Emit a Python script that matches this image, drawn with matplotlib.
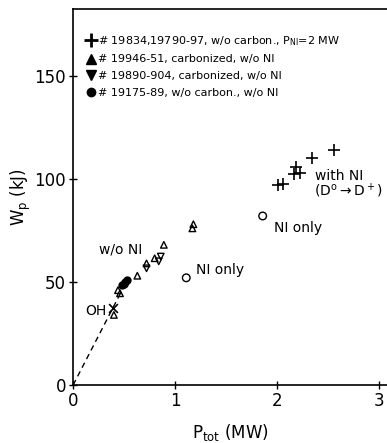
#!/usr/bin/env python3
"""Stored energy W_p vs total heating power P_tot, with / without neon."""

import matplotlib
matplotlib.use('Agg')
import matplotlib.pyplot as plt
from matplotlib.lines import Line2D

plt.rcParams['font.family'] = ['Liberation Sans Narrow', 'DejaVu Sans']
plt.rcParams['mathtext.fontset'] = 'custom'
plt.rcParams['mathtext.rm'] = 'Liberation Sans Narrow'

# Data (P_tot in MW, W_p in kJ)
plus_x = [2.01, 2.06, 2.17, 2.19, 2.23, 2.34, 2.56]
plus_y = [97.0, 97.5, 102.5, 106.0, 103.0, 110.0, 114.0]

tri_up_x = [0.40, 0.44, 0.46, 0.63, 0.72, 0.80, 0.89, 1.17, 1.18]
tri_up_y = [34.0, 46.0, 44.5, 53.0, 59.0, 61.5, 68.0, 76.0, 78.0]

tri_down_x = [0.72, 0.84, 0.86]
tri_down_y = [56.6, 60.0, 62.3]

dot_x = [0.48, 0.50, 0.51, 0.53]
dot_y = [48.5, 49.0, 50.0, 51.0]

ni_only_x = [1.11, 1.86]
ni_only_y = [52.0, 82.0]

oh_x = [0.39]
oh_y = [37.5]

# dashed ohmic line
line_x = [0.0, 0.48]
line_y = [0.0, 46.0]

legend_labels = [
    r'# 19834,19790-97, w/o carbon., $\mathregular{P_{NI}}$=2 MW',
    '# 19946-51, carbonized, w/o NI',
    '# 19890-904, carbonized, w/o NI',
    '# 19175-89, w/o carbon., w/o NI',
]


def main():
    fig = plt.figure(figsize=(3.87, 4.43), dpi=100)
    ax = fig.add_axes([0.189, 0.131, 0.811, 0.849])

    ax.plot(line_x, line_y, 'k--', linewidth=1.0, dashes=(4, 3))

    ax.scatter(plus_x, plus_y, marker='+', s=70, color='k', linewidths=1.2)
    ax.scatter(tri_up_x, tri_up_y, marker='^', s=22, facecolors='none',
               edgecolors='k', linewidths=1.0)
    ax.scatter(tri_down_x, tri_down_y, marker='v', s=22, facecolors='none',
               edgecolors='k', linewidths=1.0)
    ax.scatter(dot_x, dot_y, marker='o', s=25, color='k')
    ax.scatter(ni_only_x, ni_only_y, marker='o', s=30, facecolors='none',
               edgecolors='k', linewidths=1.0)
    ax.scatter(oh_x, oh_y, marker='x', s=40, color='k', linewidths=1.2)

    # annotations
    txt = dict(fontsize=10, color='k')
    ax.text(0.25, 65.5, 'w/o NI', va='center', ha='left', **txt)
    ax.text(0.12, 36.0, 'OH', va='center', ha='left', **txt)
    ax.text(1.21, 56.0, 'NI only', va='center', ha='left', **txt)
    ax.text(1.97, 76.0, 'NI only', va='center', ha='left', **txt)
    ax.text(2.37, 101.5, 'with NI', va='center', ha='left', **txt)
    ax.text(2.36, 94.0, r'(D$\mathregular{^o}$$\rightarrow$D$\mathregular{^+}$)',
            va='center', ha='left', **txt)

    # legend
    handles = [
        Line2D([], [], marker='+', color='k', ls='', markersize=10, mew=2),
        Line2D([], [], marker='^', color='k', ls='', markersize=7),
        Line2D([], [], marker='v', color='k', ls='', markersize=7),
        Line2D([], [], marker='o', color='k', ls='', markersize=6),
    ]
    ax.legend(handles, legend_labels, loc='upper left', frameon=False,
              fontsize=8, handletextpad=0.1, handlelength=1.2,
              labelspacing=0.6, borderaxespad=0.0,
              bbox_to_anchor=(0.02, 0.945))

    ax.set_xlim(0, 3.08)
    ax.set_ylim(0, 182.5)
    ax.set_xticks([0, 1, 2, 3])
    ax.set_yticks([0, 50, 100, 150])
    ax.tick_params(direction='inout', length=6, width=1.0, labelsize=12,
                   pad=2)
    ax.spines['right'].set_visible(False)
    for s in ['left', 'bottom', 'top']:
        ax.spines[s].set_linewidth(1.2)

    ax.set_xlabel(r'$\mathregular{P_{tot}}$ (MW)', fontsize=12, labelpad=9)
    ax.set_ylabel(r'$\mathregular{W_p}$ (kJ)', fontsize=12, labelpad=1)

    fig.savefig('out.png', dpi=100)


if __name__ == '__main__':
    main()
